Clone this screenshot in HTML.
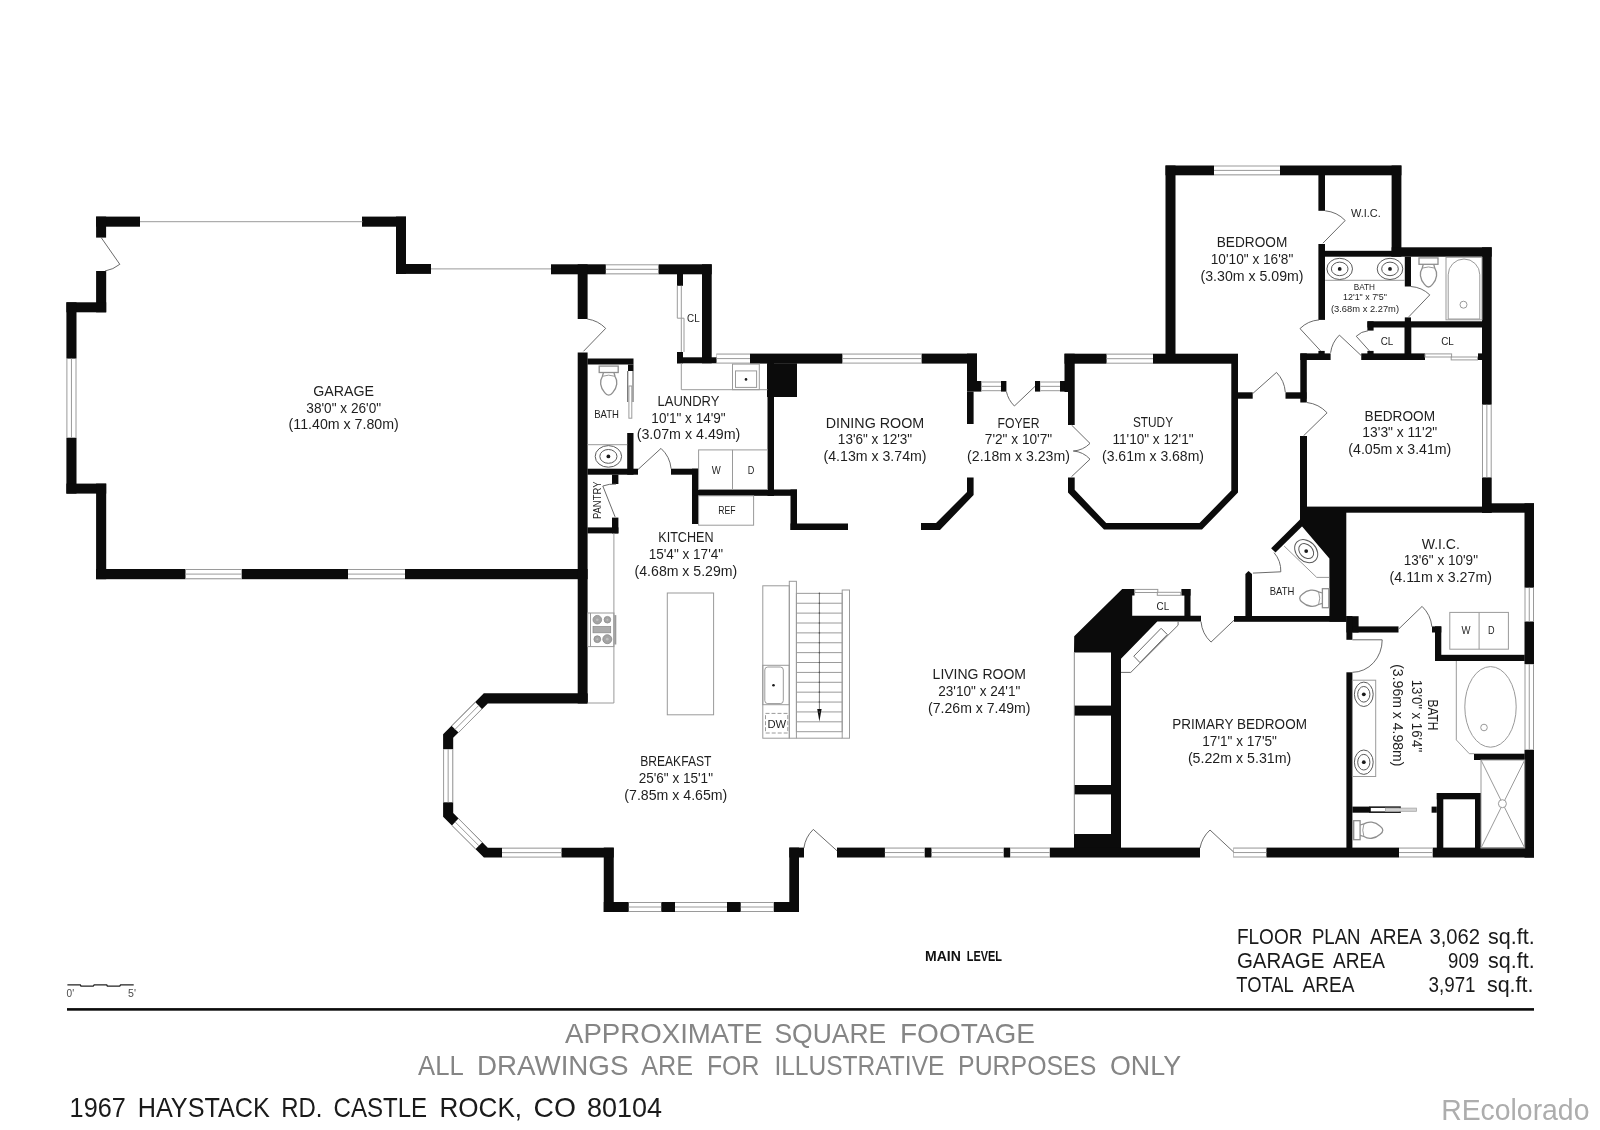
<!DOCTYPE html>
<html><head><meta charset="utf-8"><title>Floor Plan</title>
<style>html,body{margin:0;padding:0;background:#fff;}body{width:1600px;height:1130px;overflow:hidden;font-family:"Liberation Sans",sans-serif;}svg{display:block;}</style>
</head><body>
<svg width="1600" height="1130" viewBox="0 0 1600 1130">
<rect width="1600" height="1130" fill="#fff"/>
<g fill="#0b0b0b" stroke="none"><rect x="96.1" y="216.6" width="43.9" height="10.1"/><rect x="96.1" y="216.6" width="10" height="21"/><rect x="96.1" y="271" width="10.1" height="41.3"/><rect x="66.4" y="302.3" width="39.8" height="10"/><rect x="66.4" y="302.3" width="10.1" height="191.3"/><rect x="66.4" y="483.6" width="39.8" height="10"/><rect x="96.1" y="483.6" width="10.1" height="95.6"/><rect x="96.1" y="569" width="491.5" height="10.2"/><rect x="362" y="216.6" width="44" height="10.1"/><rect x="396" y="216.6" width="10" height="57.3"/><rect x="396" y="264" width="35" height="9.9"/><rect x="551" y="264.3" width="160.7" height="10"/><rect x="577.7" y="264.3" width="9.9" height="54.7"/><rect x="577.7" y="352.5" width="9.9" height="351"/><rect x="702" y="264.3" width="9.7" height="99"/><rect x="677" y="274" width="6" height="11.8"/><rect x="677" y="352" width="6" height="11.3"/><rect x="677" y="357.3" width="39.7" height="6"/><rect x="716.7" y="353.6" width="260.3" height="10"/><rect x="767" y="363.3" width="30" height="33.7"/><rect x="767.5" y="363" width="6.5" height="133"/><rect x="587.5" y="358.5" width="46" height="6"/><rect x="628" y="364.5" width="5.5" height="6.5"/><rect x="627.2" y="433" width="6.3" height="41.7"/><rect x="587.5" y="468.7" width="50.5" height="6"/><rect x="671" y="468.7" width="27.6" height="6"/><rect x="692" y="468.7" width="6.6" height="55.3"/><rect x="692" y="489.5" width="105" height="6.3"/><rect x="790.5" y="489.5" width="6.5" height="40.5"/><rect x="790.5" y="523.5" width="57.5" height="6.5"/><rect x="612" y="474.7" width="6.4" height="9.3"/><rect x="612" y="517.6" width="6.4" height="15.8"/><rect x="587.5" y="527.4" width="30.9" height="6"/><rect x="483.75" y="693.5" width="103.75" height="9.5"/><rect x="967" y="353.6" width="10" height="38"/><rect x="967" y="391.6" width="6.6" height="32.4"/><polygon points="967,477.6 973.6,477.6 973.6,495 940,530 921,530 921,523 936,523 967,492"/><rect x="977" y="381" width="4.6" height="10.6"/><rect x="1001" y="381" width="5.4" height="10.6"/><rect x="1035" y="381" width="5.4" height="10.6"/><rect x="1060" y="381" width="8" height="10.6"/><rect x="1064.5" y="353.7" width="173.5" height="10"/><rect x="1064.5" y="353.7" width="10.2" height="38.3"/><rect x="1068" y="392" width="6.7" height="33"/><polygon points="1068,477.5 1074.7,477.5 1074.7,489.8 1106.2,523.1 1199.5,523.1 1231.3,490.5 1231.3,363 1238,363 1238,492.6 1202,529.5 1104,529.5 1068,492.6"/><rect x="1238" y="392.3" width="14.7" height="6.4"/><rect x="1285.5" y="392.3" width="21" height="6.4"/><rect x="1165.5" y="165.5" width="235.9" height="9.8"/><rect x="1165.5" y="165.5" width="10" height="188.5"/><rect x="1318.4" y="175" width="6.6" height="35.8"/><rect x="1318.4" y="244" width="6.6" height="75.9"/><rect x="1391.6" y="165.5" width="9.8" height="91.2"/><rect x="1325" y="250.8" width="67" height="5.9"/><rect x="1391.6" y="247.3" width="100.1" height="9.4"/><rect x="1482" y="247.3" width="9.7" height="265.4"/><rect x="1404.8" y="256.7" width="6.2" height="29.8"/><rect x="1404.8" y="317.4" width="6.2" height="4.6"/><rect x="1367.4" y="321.3" width="114.6" height="6.2"/><rect x="1367.4" y="321.3" width="6.2" height="9.3"/><rect x="1404.5" y="327" width="6.8" height="27"/><rect x="1300.3" y="353.4" width="30.3" height="6.6"/><rect x="1361.25" y="353.4" width="63.75" height="6.6"/><rect x="1478" y="353.4" width="4" height="6.6"/><rect x="1318.4" y="350.9" width="6.3" height="3.1"/><rect x="1367.4" y="350.9" width="6.2" height="3.1"/><rect x="1300.3" y="353.4" width="6.5" height="49.1"/><rect x="1300" y="436" width="7" height="76.7"/><rect x="1300" y="506.6" width="191.7" height="6.1"/><rect x="1482" y="503.3" width="52" height="9.4"/><rect x="1524.5" y="503.3" width="9.5" height="354.3"/><polygon points="1300,512 1346.3,512 1346.3,621.8 1329.4,621.8 1329.4,558.4 1300,524"/><polygon points="1300,519.4 1304.5,524 1275.5,552.6 1271.1,548.3"/><rect x="1234" y="616" width="112.4" height="5.8"/><polygon points="1245.4,574 1248.5,571 1252,574 1252,616 1245.4,616"/><rect x="1184.4" y="589" width="6.1" height="27"/><rect x="1181.4" y="589" width="9.1" height="6.6"/><polygon points="1074.2,636.2 1122.2,589 1134.5,589 1134.5,595.6 1132.2,595.6 1132.2,615.8 1201,615.8 1201,621.6 1157.3,621.6 1121,658.7 1121,848 1111,848 1111,652.4 1074,652.4"/><rect x="1074" y="705.6" width="37" height="10"/><rect x="1074" y="785" width="37" height="9.4"/><rect x="1074" y="834" width="37" height="14"/><rect x="1346.4" y="616.2" width="12.2" height="16.3"/><rect x="1346.4" y="616" width="6" height="23.8"/><rect x="1352.4" y="626.4" width="46.1" height="6.1"/><rect x="1432" y="626.4" width="9.3" height="6.1"/><rect x="1435" y="626.4" width="6.3" height="34.6"/><rect x="1435" y="654.8" width="89.7" height="6.2"/><rect x="1346.4" y="672.3" width="6" height="175.7"/><rect x="1474" y="753.7" width="50.7" height="6.3"/><rect x="1436.8" y="793" width="44.2" height="6.3"/><rect x="1436.8" y="793" width="6.5" height="55"/><rect x="1475" y="793" width="6" height="55"/><rect x="1431.6" y="806.6" width="5.2" height="6.1"/><rect x="1352.4" y="806.6" width="17.6" height="6.1"/><rect x="1050" y="847.6" width="150" height="9.9"/><rect x="1233.6" y="847.6" width="300.4" height="9.9"/><rect x="837" y="847.6" width="213" height="9.9"/><rect x="789.3" y="847.6" width="14.7" height="9.9"/><rect x="789.3" y="847.6" width="9.7" height="64.4"/><rect x="603.75" y="902" width="195.25" height="10"/><rect x="603.75" y="847.6" width="10" height="64.4"/><polygon points="587.5,693.6 483.6,693.6 443.1,734.3 443.1,816.8 483.9,857.6 613.75,857.6 613.75,847.7 487.8,847.7 453.2,812.9 453.2,737.8 487.8,703.5 587.5,703.5"/></g>
<g fill="#fff" stroke="none"><rect x="65.9" y="358.6" width="11.1" height="79.1"/><rect x="185.5" y="568.5" width="56.2" height="11.2"/><rect x="348" y="568.5" width="57" height="11.2"/><rect x="605.8" y="263.8" width="52.7" height="11"/><rect x="716.7" y="353.1" width="33.3" height="11"/><rect x="842.4" y="353.1" width="79.2" height="11"/><rect x="981.6" y="381" width="19.4" height="10.7"/><rect x="1040.4" y="381" width="19.6" height="10.7"/><rect x="1106.6" y="353.2" width="46.4" height="11"/><rect x="1214" y="165" width="66" height="10.8"/><rect x="1481.5" y="404.7" width="10.7" height="72.7"/><rect x="1524" y="587.7" width="10.5" height="33.8"/><rect x="1524" y="664.2" width="10.5" height="85.5"/><rect x="1233.6" y="847.1" width="32.8" height="10.9"/><rect x="1399" y="847.1" width="33.7" height="10.9"/><rect x="884.9" y="847.1" width="39.8" height="10.9"/><rect x="931.5" y="847.1" width="72.2" height="10.9"/><rect x="1010.2" y="847.1" width="39.6" height="10.9"/><rect x="628.75" y="901.5" width="32.5" height="11"/><rect x="675" y="901.5" width="52" height="11"/><rect x="740.75" y="901.5" width="33" height="11"/><rect x="502" y="847.2" width="59.5" height="10.9"/><rect x="442.6" y="749.2" width="11.1" height="53.1"/><polygon points="475.4,702.3 451.7,726 458.5,732.6 481.9,708.9"/><polygon points="451.9,825.4 475.6,848.9 482.1,842.4 458.5,818.6"/></g>
<g fill="none" stroke="#9a9a9a" stroke-width="1"><line x1="66.9" y1="358.6" x2="66.9" y2="437.7"/><line x1="71.45" y1="358.6" x2="71.45" y2="437.7"/><line x1="76" y1="358.6" x2="76" y2="437.7"/><line x1="185.5" y1="569.5" x2="241.7" y2="569.5"/><line x1="185.5" y1="574.1" x2="241.7" y2="574.1"/><line x1="185.5" y1="578.7" x2="241.7" y2="578.7"/><line x1="348" y1="569.5" x2="405" y2="569.5"/><line x1="348" y1="574.1" x2="405" y2="574.1"/><line x1="348" y1="578.7" x2="405" y2="578.7"/><line x1="140" y1="221.7" x2="362.5" y2="221.7"/><line x1="431" y1="268.9" x2="551" y2="268.9"/><line x1="605.8" y1="264.8" x2="658.5" y2="264.8"/><line x1="605.8" y1="269.3" x2="658.5" y2="269.3"/><line x1="605.8" y1="273.8" x2="658.5" y2="273.8"/><line x1="716.7" y1="354.1" x2="750" y2="354.1"/><line x1="716.7" y1="358.6" x2="750" y2="358.6"/><line x1="716.7" y1="363.1" x2="750" y2="363.1"/><line x1="842.4" y1="354.1" x2="921.6" y2="354.1"/><line x1="842.4" y1="358.6" x2="921.6" y2="358.6"/><line x1="842.4" y1="363.1" x2="921.6" y2="363.1"/><line x1="981.6" y1="382" x2="1001" y2="382"/><line x1="981.6" y1="386.35" x2="1001" y2="386.35"/><line x1="981.6" y1="390.7" x2="1001" y2="390.7"/><line x1="1040.4" y1="382" x2="1060" y2="382"/><line x1="1040.4" y1="386.35" x2="1060" y2="386.35"/><line x1="1040.4" y1="390.7" x2="1060" y2="390.7"/><line x1="1106.6" y1="354.2" x2="1153" y2="354.2"/><line x1="1106.6" y1="358.7" x2="1153" y2="358.7"/><line x1="1106.6" y1="363.2" x2="1153" y2="363.2"/><line x1="1214" y1="166" x2="1280" y2="166"/><line x1="1214" y1="170.4" x2="1280" y2="170.4"/><line x1="1214" y1="174.8" x2="1280" y2="174.8"/><line x1="1482.5" y1="404.7" x2="1482.5" y2="477.4"/><line x1="1486.85" y1="404.7" x2="1486.85" y2="477.4"/><line x1="1491.2" y1="404.7" x2="1491.2" y2="477.4"/><line x1="1525" y1="587.7" x2="1525" y2="621.5"/><line x1="1529.25" y1="587.7" x2="1529.25" y2="621.5"/><line x1="1533.5" y1="587.7" x2="1533.5" y2="621.5"/><line x1="1525" y1="664.2" x2="1525" y2="749.7"/><line x1="1529.25" y1="664.2" x2="1529.25" y2="749.7"/><line x1="1533.5" y1="664.2" x2="1533.5" y2="749.7"/><line x1="1233.6" y1="848.1" x2="1266.4" y2="848.1"/><line x1="1233.6" y1="852.55" x2="1266.4" y2="852.55"/><line x1="1233.6" y1="857" x2="1266.4" y2="857"/><line x1="1399" y1="848.1" x2="1432.7" y2="848.1"/><line x1="1399" y1="852.55" x2="1432.7" y2="852.55"/><line x1="1399" y1="857" x2="1432.7" y2="857"/><line x1="884.9" y1="848.1" x2="924.7" y2="848.1"/><line x1="884.9" y1="852.55" x2="924.7" y2="852.55"/><line x1="884.9" y1="857" x2="924.7" y2="857"/><line x1="931.5" y1="848.1" x2="1003.7" y2="848.1"/><line x1="931.5" y1="852.55" x2="1003.7" y2="852.55"/><line x1="931.5" y1="857" x2="1003.7" y2="857"/><line x1="1010.2" y1="848.1" x2="1049.8" y2="848.1"/><line x1="1010.2" y1="852.55" x2="1049.8" y2="852.55"/><line x1="1010.2" y1="857" x2="1049.8" y2="857"/><line x1="628.75" y1="902.5" x2="661.25" y2="902.5"/><line x1="628.75" y1="907" x2="661.25" y2="907"/><line x1="628.75" y1="911.5" x2="661.25" y2="911.5"/><line x1="675" y1="902.5" x2="727" y2="902.5"/><line x1="675" y1="907" x2="727" y2="907"/><line x1="675" y1="911.5" x2="727" y2="911.5"/><line x1="740.75" y1="902.5" x2="773.75" y2="902.5"/><line x1="740.75" y1="907" x2="773.75" y2="907"/><line x1="740.75" y1="911.5" x2="773.75" y2="911.5"/><line x1="502" y1="848.2" x2="561.5" y2="848.2"/><line x1="502" y1="852.65" x2="561.5" y2="852.65"/><line x1="502" y1="857.1" x2="561.5" y2="857.1"/><line x1="443.6" y1="749.2" x2="443.6" y2="802.3"/><line x1="448.15" y1="749.2" x2="448.15" y2="802.3"/><line x1="452.7" y1="749.2" x2="452.7" y2="802.3"/><line x1="475.4" y1="702.3" x2="451.7" y2="726"/><line x1="481.9" y1="708.9" x2="458.5" y2="732.6"/><line x1="478.65" y1="705.6" x2="455.1" y2="729.3"/><line x1="451.9" y1="825.4" x2="475.6" y2="848.9"/><line x1="458.5" y1="818.6" x2="482.1" y2="842.4"/><line x1="455.2" y1="822" x2="478.85" y2="845.65"/><g transform="translate(608.7 365.8) rotate(0)" stroke="#8f8f8f" stroke-width="1.3"><rect x="-9.5" y="0.3" width="19" height="6.4"/><path d="M-5.2 6.7 L-6.3 10.5 C-9.2 15 -8.8 21.5 -4 26.8 Q0 32 4 26.8 C8.8 21.5 9.2 15 6.3 10.5 L5.2 6.7"/><path d="M-6.3 10.5 Q0 8.2 6.3 10.5" stroke-width="0.9"/></g><path d="M627.7 371 V402 M633 371 V402" stroke="#777" stroke-width="1.3"/><rect x="628.9" y="386" width="2.9" height="32.2"/><line x1="587.5" y1="444.7" x2="627.2" y2="444.7"/><polyline points="681.3,363.3 681.3,389.7 767.5,389.7"/><rect x="732.5" y="364.1" width="26.8" height="25.6"/><rect x="735.5" y="370.9" width="21.1" height="16.5"/><polyline points="677.3,285.8 677.3,318.2 681.3,318.2"/><polyline points="681.3,285.8 681.3,352"/><polyline points="681.3,318.2 684,318.2 684,352"/><rect x="698.6" y="449.9" width="68.9" height="39.6"/><line x1="732.5" y1="449.9" x2="732.5" y2="489.5"/><rect x="698.6" y="495.8" width="55" height="29.4"/><polyline points="613.9,533.4 613.9,703 587.5,703"/><rect x="587.7" y="613" width="26.2" height="33.6"/><line x1="590.5" y1="613" x2="590.5" y2="646.6"/><rect x="667.3" y="593" width="46.3" height="121.8"/><rect x="762.8" y="585.8" width="26.5" height="152.4"/><rect x="789.3" y="581.3" width="7.1" height="156.9"/><rect x="842.2" y="590" width="7.3" height="148.2"/><line x1="796.4" y1="738.2" x2="842.2" y2="738.2"/><rect x="796.4" y="593.35" width="45.8" height="138.35"/><line x1="796.4" y1="603.23" x2="842.2" y2="603.23"/><line x1="796.4" y1="613.11" x2="842.2" y2="613.11"/><line x1="796.4" y1="623" x2="842.2" y2="623"/><line x1="796.4" y1="632.88" x2="842.2" y2="632.88"/><line x1="796.4" y1="642.76" x2="842.2" y2="642.76"/><line x1="796.4" y1="652.64" x2="842.2" y2="652.64"/><line x1="796.4" y1="662.52" x2="842.2" y2="662.52"/><line x1="796.4" y1="672.41" x2="842.2" y2="672.41"/><line x1="796.4" y1="682.29" x2="842.2" y2="682.29"/><line x1="796.4" y1="692.17" x2="842.2" y2="692.17"/><line x1="796.4" y1="702.05" x2="842.2" y2="702.05"/><line x1="796.4" y1="711.93" x2="842.2" y2="711.93"/><line x1="796.4" y1="721.82" x2="842.2" y2="721.82"/><rect x="762.8" y="665.3" width="26.5" height="39.4"/><rect x="764.8" y="667" width="18.5" height="36.6" rx="3"/><rect x="765.5" y="713.4" width="22.3" height="19.6" stroke-dasharray="4 2"/><line x1="1325.2" y1="280.3" x2="1404.8" y2="280.3"/><g transform="translate(1428.5 257.6) rotate(0)" stroke="#8f8f8f" stroke-width="1.3"><rect x="-9.5" y="0.3" width="19" height="6.4"/><path d="M-5.2 6.7 L-6.3 10.5 C-9.2 15 -8.8 21.5 -4 26.8 Q0 32 4 26.8 C8.8 21.5 9.2 15 6.3 10.5 L5.2 6.7"/><path d="M-6.3 10.5 Q0 8.2 6.3 10.5" stroke-width="0.9"/></g><rect x="1446" y="257.3" width="36" height="62.5"/><path d="M1448.2 319 L1448.2 274.8 A15.8 15.8 0 0 1 1479.8 274.8 L1479.8 319 Z"/><ellipse cx="1463.5" cy="304.7" rx="3.5" ry="3.5"/><rect x="1425" y="353.9" width="26.6" height="3.1"/><rect x="1451.2" y="357" width="26.3" height="2.9"/><rect x="1134.8" y="589.4" width="23" height="3.1"/><rect x="1157.3" y="592.3" width="23.5" height="3"/><polyline points="1284.1,546 1316.7,577.4 1329.1,577.4"/><g transform="translate(1329.1 598.2) rotate(90)" stroke="#8f8f8f" stroke-width="1.3"><rect x="-9.5" y="0.3" width="19" height="6.4"/><path d="M-5.2 6.7 L-6.3 10.5 C-9.2 15 -8.8 21.5 -4 26.8 Q0 32 4 26.8 C8.8 21.5 9.2 15 6.3 10.5 L5.2 6.7"/><path d="M-6.3 10.5 Q0 8.2 6.3 10.5" stroke-width="0.9"/></g><rect x="1352.4" y="680.2" width="23.3" height="96.3"/><polyline points="1456.3,661 1456.3,739.9 1469.3,753.7 1474,753.7"/><ellipse cx="1490.5" cy="706.9" rx="25.7" ry="40.3"/><ellipse cx="1484" cy="727.5" rx="3.3" ry="3.3"/><rect x="1481" y="760" width="43.7" height="88"/><line x1="1481" y1="760" x2="1524.7" y2="848"/><line x1="1524.7" y1="760" x2="1481" y2="848"/><circle cx="1502.4" cy="803.7" r="4" fill="#fff"/><g transform="translate(1353.4 830.2) rotate(-90)" stroke="#8f8f8f" stroke-width="1.3"><rect x="-9.5" y="0.3" width="19" height="6.4"/><path d="M-5.2 6.7 L-6.3 10.5 C-9.2 15 -8.8 21.5 -4 26.8 Q0 32 4 26.8 C8.8 21.5 9.2 15 6.3 10.5 L5.2 6.7"/><path d="M-6.3 10.5 Q0 8.2 6.3 10.5" stroke-width="0.9"/></g><rect x="1449.8" y="612.4" width="58.6" height="36.8"/><line x1="1479.1" y1="612.4" x2="1479.1" y2="649.2"/></g>
<g fill="none" stroke="#5a5a5a" stroke-width="0.9"><path d="M101.2 237.6 L119.8 264.3 A32.54 32.54 0 0 1 105 271"/><path d="M583.5 351.3 L605.7 328.4 A31.89 31.89 0 0 0 587.3 319"/><path d="M638 469.5 L661 448.4 A31.21 31.21 0 0 1 671.1 468.7"/><path d="M615.1 516.9 L602.8 486 A33.26 33.26 0 0 1 616 484.1"/><path d="M1035 386.4 L1014.4 406 A28.43 28.43 0 0 1 1006.4 391.6"/><path d="M1071.5 425 L1090 443.4 A26.09 26.09 0 0 1 1073.3 451"/><path d="M1071.5 476.7 L1090 459.2 A25.47 25.47 0 0 0 1073.3 451"/><path d="M1252.9 393.4 L1276.5 372.4 A31.59 31.59 0 0 1 1285.3 392.2"/><path d="M1303.5 435.8 L1327.1 412.8 A32.95 32.95 0 0 0 1306.9 402.5"/><path d="M1322.9 243.2 L1345.2 220.5 A31.82 31.82 0 0 0 1325.2 210.8"/><path d="M1408.8 316.8 L1429.8 294.9 A30.34 30.34 0 0 0 1410.9 286.5"/><path d="M1320.6 350.9 L1300 328.6 A30.36 30.36 0 0 1 1319 319.9"/><path d="M1361.25 355.6 L1339.4 335.1 A29.96 29.96 0 0 0 1330.6 352.8"/><path d="M1369.4 350.9 L1356.25 336.25 A19.69 19.69 0 0 1 1368 330.75"/><path d="M1234 620.2 L1211 642.1 A31.76 31.76 0 0 1 1201 621.6"/><path d="M1252.9 573.1 L1280.8 571.8 A27.93 27.93 0 0 0 1274 552.6"/><path d="M1398.5 629.2 L1422.1 606.4 A32.81 32.81 0 0 1 1431.9 626.75"/><path d="M1352.4 639.8 L1382.2 639.8 A29.8 32.5 0 0 1 1352.4 672.3"/><path d="M1233.6 852 L1210 830 A32.26 32.26 0 0 0 1200 848"/><path d="M837 850.75 L813.3 829.4 A31.9 31.9 0 0 0 803.9 848"/><polyline points="1178.1,621.6 1178.1,625.2 1130.8,672.4 1121,672.4"/><polygon points="1161.1,628.3 1167.3,634.5 1140,662.6 1133.8,656.2"/></g>
<g font-family="'Liberation Sans', sans-serif" fill="#1e1e1e" opacity="0.999"><text x="343.7" y="395.8" font-size="14.1" text-anchor="middle" textLength="60.8" lengthAdjust="spacingAndGlyphs">GARAGE</text><text x="343.7" y="412.55" font-size="14.1" text-anchor="middle" textLength="74.7" lengthAdjust="spacingAndGlyphs">38'0" x 26'0"</text><text x="343.7" y="429.3" font-size="14.1" text-anchor="middle" textLength="110.2" lengthAdjust="spacingAndGlyphs">(11.40m x 7.80m)</text><text x="688.5" y="405.9" font-size="14.1" text-anchor="middle" textLength="61.9" lengthAdjust="spacingAndGlyphs">LAUNDRY</text><text x="688.5" y="422.65" font-size="14.1" text-anchor="middle" textLength="74.3" lengthAdjust="spacingAndGlyphs">10'1" x 14'9"</text><text x="688.5" y="439.4" font-size="14.1" text-anchor="middle" textLength="103.7" lengthAdjust="spacingAndGlyphs">(3.07m x 4.49m)</text><text x="685.9" y="542.3" font-size="14.1" text-anchor="middle" textLength="55.2" lengthAdjust="spacingAndGlyphs">KITCHEN</text><text x="685.9" y="559.05" font-size="14.1" text-anchor="middle" textLength="74.4" lengthAdjust="spacingAndGlyphs">15'4" x 17'4"</text><text x="685.9" y="575.8" font-size="14.1" text-anchor="middle" textLength="102.6" lengthAdjust="spacingAndGlyphs">(4.68m x 5.29m)</text><text x="875" y="427.6" font-size="14.1" text-anchor="middle" textLength="98.5" lengthAdjust="spacingAndGlyphs">DINING ROOM</text><text x="875" y="444.35" font-size="14.1" text-anchor="middle" textLength="74.3" lengthAdjust="spacingAndGlyphs">13'6" x 12'3"</text><text x="875" y="461.1" font-size="14.1" text-anchor="middle" textLength="103" lengthAdjust="spacingAndGlyphs">(4.13m x 3.74m)</text><text x="1018.5" y="427.6" font-size="14.1" text-anchor="middle" textLength="42" lengthAdjust="spacingAndGlyphs">FOYER</text><text x="1018.5" y="444.35" font-size="14.1" text-anchor="middle" textLength="67.4" lengthAdjust="spacingAndGlyphs">7'2" x 10'7"</text><text x="1018.5" y="461.1" font-size="14.1" text-anchor="middle" textLength="102.8" lengthAdjust="spacingAndGlyphs">(2.18m x 3.23m)</text><text x="1153" y="427.2" font-size="14.1" text-anchor="middle" textLength="40.1" lengthAdjust="spacingAndGlyphs">STUDY</text><text x="1153" y="443.95" font-size="14.1" text-anchor="middle" textLength="81.1" lengthAdjust="spacingAndGlyphs">11'10" x 12'1"</text><text x="1153" y="460.7" font-size="14.1" text-anchor="middle" textLength="102" lengthAdjust="spacingAndGlyphs">(3.61m x 3.68m)</text><text x="1252" y="247" font-size="14.1" text-anchor="middle" textLength="70.5" lengthAdjust="spacingAndGlyphs">BEDROOM</text><text x="1252" y="263.75" font-size="14.1" text-anchor="middle" textLength="82.5" lengthAdjust="spacingAndGlyphs">10'10" x 16'8"</text><text x="1252" y="280.5" font-size="14.1" text-anchor="middle" textLength="103" lengthAdjust="spacingAndGlyphs">(3.30m x 5.09m)</text><text x="1399.8" y="420.6" font-size="14.1" text-anchor="middle" textLength="70.4" lengthAdjust="spacingAndGlyphs">BEDROOM</text><text x="1399.8" y="437.35" font-size="14.1" text-anchor="middle" textLength="74.9" lengthAdjust="spacingAndGlyphs">13'3" x 11'2"</text><text x="1399.8" y="454.1" font-size="14.1" text-anchor="middle" textLength="103" lengthAdjust="spacingAndGlyphs">(4.05m x 3.41m)</text><text x="1440.8" y="548.6" font-size="14.1" text-anchor="middle" textLength="38.3" lengthAdjust="spacingAndGlyphs">W.I.C.</text><text x="1440.8" y="565.35" font-size="14.1" text-anchor="middle" textLength="74.3" lengthAdjust="spacingAndGlyphs">13'6" x 10'9"</text><text x="1440.8" y="582.1" font-size="14.1" text-anchor="middle" textLength="102.4" lengthAdjust="spacingAndGlyphs">(4.11m x 3.27m)</text><text x="1239.6" y="729.4" font-size="14.1" text-anchor="middle" textLength="134.6" lengthAdjust="spacingAndGlyphs">PRIMARY BEDROOM</text><text x="1239.6" y="746.15" font-size="14.1" text-anchor="middle" textLength="74.6" lengthAdjust="spacingAndGlyphs">17'1" x 17'5"</text><text x="1239.6" y="762.9" font-size="14.1" text-anchor="middle" textLength="103.4" lengthAdjust="spacingAndGlyphs">(5.22m x 5.31m)</text><text x="675.8" y="766.2" font-size="14.1" text-anchor="middle" textLength="71.3" lengthAdjust="spacingAndGlyphs">BREAKFAST</text><text x="675.8" y="782.95" font-size="14.1" text-anchor="middle" textLength="74.3" lengthAdjust="spacingAndGlyphs">25'6" x 15'1"</text><text x="675.8" y="799.7" font-size="14.1" text-anchor="middle" textLength="103" lengthAdjust="spacingAndGlyphs">(7.85m x 4.65m)</text><text x="979.3" y="679.1" font-size="14.1" text-anchor="middle" textLength="93.4" lengthAdjust="spacingAndGlyphs">LIVING ROOM</text><text x="979.3" y="695.85" font-size="14.1" text-anchor="middle" textLength="82.1" lengthAdjust="spacingAndGlyphs">23'10" x 24'1"</text><text x="979.3" y="712.6" font-size="14.1" text-anchor="middle" textLength="102.4" lengthAdjust="spacingAndGlyphs">(7.26m x 7.49m)</text><text x="594.2" y="418.2" font-size="11.2" textLength="24.83" lengthAdjust="spacingAndGlyphs">BATH</text><text x="687.1" y="321.6" font-size="11.2" textLength="12.62" lengthAdjust="spacingAndGlyphs">CL</text><text x="711.8" y="473.9" font-size="11.2" textLength="8.98" lengthAdjust="spacingAndGlyphs">W</text><text x="747.7" y="473.9" font-size="11.2" textLength="6.59" lengthAdjust="spacingAndGlyphs">D</text><text x="718.15" y="514.3" font-size="11.2" textLength="17.3" lengthAdjust="spacingAndGlyphs">REF</text><text x="600.9" y="519.1" font-size="11.2" textLength="37.6" lengthAdjust="spacingAndGlyphs" transform="rotate(-90 600.9 519.1)">PANTRY</text><text x="767.4" y="727.8" font-size="11.2" textLength="18.76" lengthAdjust="spacingAndGlyphs">DW</text><text x="1351" y="217.1" font-size="11.2" textLength="29.79" lengthAdjust="spacingAndGlyphs">W.I.C.</text><text x="1364.4" y="289.7" font-size="9.1" text-anchor="middle" textLength="21.3" lengthAdjust="spacingAndGlyphs">BATH</text><text x="1365" y="299.9" font-size="9.1" text-anchor="middle" textLength="43.8" lengthAdjust="spacingAndGlyphs">12'1" x 7'5"</text><text x="1365" y="311.6" font-size="9.1" text-anchor="middle" textLength="68.1" lengthAdjust="spacingAndGlyphs">(3.68m x 2.27m)</text><text x="1380.7" y="344.7" font-size="11.2" textLength="12.62" lengthAdjust="spacingAndGlyphs">CL</text><text x="1441.2" y="344.7" font-size="11.2" textLength="12.62" lengthAdjust="spacingAndGlyphs">CL</text><text x="1461.5" y="633.7" font-size="11.2" textLength="8.98" lengthAdjust="spacingAndGlyphs">W</text><text x="1488" y="633.7" font-size="11.2" textLength="6.59" lengthAdjust="spacingAndGlyphs">D</text><text x="1269.7" y="594.6" font-size="11.2" textLength="24.63" lengthAdjust="spacingAndGlyphs">BATH</text><text x="1156.6" y="610.1" font-size="11.2" textLength="12.62" lengthAdjust="spacingAndGlyphs">CL</text><text x="1427.9" y="715" font-size="14.1" text-anchor="middle" textLength="30.9" lengthAdjust="spacingAndGlyphs" transform="rotate(90 1427.9 715)">BATH</text><text x="1411.5" y="715.9" font-size="14.1" text-anchor="middle" textLength="72.4" lengthAdjust="spacingAndGlyphs" transform="rotate(90 1411.5 715.9)">13'0" x 16'4"</text><text x="1392.9" y="715.3" font-size="14.1" text-anchor="middle" textLength="102.2" lengthAdjust="spacingAndGlyphs" transform="rotate(90 1392.9 715.3)">(3.96m x 4.98m)</text><text x="925" y="961.3" font-size="14" textLength="35.87" lengthAdjust="spacingAndGlyphs" font-weight="bold" fill="#111">MAIN</text><text x="966.7" y="961.3" font-size="14" textLength="35.31" lengthAdjust="spacingAndGlyphs" font-weight="bold" fill="#111">LEVEL</text><text x="66.6" y="996.6" font-size="11.4" textLength="7.52" lengthAdjust="spacingAndGlyphs" fill="#4a4a4a">0'</text><text x="128.1" y="996.6" font-size="11.4" textLength="7.92" lengthAdjust="spacingAndGlyphs" fill="#4a4a4a">5'</text><text x="565" y="1042.5" font-size="27.6" textLength="197.53" lengthAdjust="spacingAndGlyphs" fill="#858585">APPROXIMATE</text><text x="774.4" y="1042.5" font-size="27.6" textLength="111.81" lengthAdjust="spacingAndGlyphs" fill="#858585">SQUARE</text><text x="900" y="1042.5" font-size="27.6" textLength="135" lengthAdjust="spacingAndGlyphs" fill="#858585">FOOTAGE</text><text x="418.1" y="1075.25" font-size="27.6" textLength="45.66" lengthAdjust="spacingAndGlyphs" fill="#858585">ALL</text><text x="476.9" y="1075.25" font-size="27.6" textLength="151.58" lengthAdjust="spacingAndGlyphs" fill="#858585">DRAWINGS</text><text x="641.25" y="1075.25" font-size="27.6" textLength="51.8" lengthAdjust="spacingAndGlyphs" fill="#858585">ARE</text><text x="706.9" y="1075.25" font-size="27.6" textLength="52.46" lengthAdjust="spacingAndGlyphs" fill="#858585">FOR</text><text x="774.4" y="1075.25" font-size="27.6" textLength="170.01" lengthAdjust="spacingAndGlyphs" fill="#858585">ILLUSTRATIVE</text><text x="958.1" y="1075.25" font-size="27.6" textLength="138.13" lengthAdjust="spacingAndGlyphs" fill="#858585">PURPOSES</text><text x="1110" y="1075.25" font-size="27.6" textLength="71.01" lengthAdjust="spacingAndGlyphs" fill="#858585">ONLY</text><text x="69.6" y="1116.5" font-size="27.8" textLength="56.19" lengthAdjust="spacingAndGlyphs" fill="#1a1a1a">1967</text><text x="137.7" y="1116.5" font-size="27.8" textLength="132.12" lengthAdjust="spacingAndGlyphs" fill="#1a1a1a">HAYSTACK</text><text x="281.3" y="1116.5" font-size="27.8" textLength="41.18" lengthAdjust="spacingAndGlyphs" fill="#1a1a1a">RD.</text><text x="333.5" y="1116.5" font-size="27.8" textLength="93.64" lengthAdjust="spacingAndGlyphs" fill="#1a1a1a">CASTLE</text><text x="439.5" y="1116.5" font-size="27.8" textLength="82.54" lengthAdjust="spacingAndGlyphs" fill="#1a1a1a">ROCK,</text><text x="533.5" y="1116.5" font-size="27.8" textLength="42.4" lengthAdjust="spacingAndGlyphs" fill="#1a1a1a">CO</text><text x="586.9" y="1116.5" font-size="27.8" textLength="75" lengthAdjust="spacingAndGlyphs" fill="#1a1a1a">80104</text><text x="1236.9" y="943.5" font-size="21.4" textLength="65.62" lengthAdjust="spacingAndGlyphs" fill="#1a1a1a">FLOOR</text><text x="1311.9" y="943.5" font-size="21.4" textLength="48.7" lengthAdjust="spacingAndGlyphs" fill="#1a1a1a">PLAN</text><text x="1370" y="943.5" font-size="21.4" textLength="51.98" lengthAdjust="spacingAndGlyphs" fill="#1a1a1a">AREA</text><text x="1429.4" y="943.5" font-size="21.4" textLength="50.55" lengthAdjust="spacingAndGlyphs" fill="#1a1a1a">3,062</text><text x="1488.1" y="943.5" font-size="21.4" textLength="46.63" lengthAdjust="spacingAndGlyphs" fill="#1a1a1a">sq.ft.</text><text x="1236.9" y="967.5" font-size="21.4" textLength="87.47" lengthAdjust="spacingAndGlyphs" fill="#1a1a1a">GARAGE</text><text x="1333.1" y="967.5" font-size="21.4" textLength="51.88" lengthAdjust="spacingAndGlyphs" fill="#1a1a1a">AREA</text><text x="1448.1" y="967.5" font-size="21.4" textLength="30.9" lengthAdjust="spacingAndGlyphs" fill="#1a1a1a">909</text><text x="1488.1" y="967.5" font-size="21.4" textLength="46.63" lengthAdjust="spacingAndGlyphs" fill="#1a1a1a">sq.ft.</text><text x="1236.25" y="992.25" font-size="21.4" textLength="57.49" lengthAdjust="spacingAndGlyphs" fill="#1a1a1a">TOTAL</text><text x="1302.5" y="992.25" font-size="21.4" textLength="51.88" lengthAdjust="spacingAndGlyphs" fill="#1a1a1a">AREA</text><text x="1428.5" y="992.25" font-size="21.4" textLength="47.06" lengthAdjust="spacingAndGlyphs" fill="#1a1a1a">3,971</text><text x="1486.9" y="992.25" font-size="21.4" textLength="46.58" lengthAdjust="spacingAndGlyphs" fill="#1a1a1a">sq.ft.</text><text x="1441.2" y="1120.3" font-size="28.6" textLength="148.24" lengthAdjust="spacingAndGlyphs" fill="#adadad">REcolorado</text></g>
<g><circle cx="597.3" cy="619.7" r="4.3" fill="#a4a4a4" stroke="#8a8a8a" stroke-width="0.8"/><circle cx="597.3" cy="619.7" r="1.29" fill="#bdbdbd"/><circle cx="607.4" cy="619.7" r="3.3" fill="#a4a4a4" stroke="#8a8a8a" stroke-width="0.8"/><circle cx="607.4" cy="619.7" r="0.99" fill="#bdbdbd"/><circle cx="597.3" cy="639.2" r="3.4" fill="#a4a4a4" stroke="#8a8a8a" stroke-width="0.8"/><circle cx="597.3" cy="639.2" r="1.02" fill="#bdbdbd"/><circle cx="607.3" cy="639.2" r="4.5" fill="#a4a4a4" stroke="#8a8a8a" stroke-width="0.8"/><circle cx="607.3" cy="639.2" r="1.35" fill="#bdbdbd"/><rect x="593" y="626.5" width="17.7" height="6.3" fill="#ababab" stroke="#888" stroke-width="0.7"/><rect x="614.3" y="615.1" width="2" height="29.4" fill="#9a9a9a"/></g><g fill="none" stroke="#5a5a5a" stroke-width="1"><ellipse cx="608.4" cy="456.4" rx="13.2" ry="10.8"/><ellipse cx="608.4" cy="456.4" rx="8.58" ry="6.91"/><ellipse cx="1339.7" cy="268.9" rx="12.8" ry="10.6"/><ellipse cx="1339.7" cy="268.9" rx="8.32" ry="6.78"/><ellipse cx="1390" cy="268.9" rx="12.8" ry="10.6"/><ellipse cx="1390" cy="268.9" rx="8.32" ry="6.78"/><ellipse cx="1306.2" cy="551.1" rx="13" ry="9.9" transform="rotate(45 1306.2 551.1)"/><ellipse cx="1306.2" cy="551.1" rx="8.45" ry="6.34" transform="rotate(45 1306.2 551.1)"/><ellipse cx="1363.8" cy="694.3" rx="9.4" ry="12.2"/><ellipse cx="1363.8" cy="694.3" rx="6.11" ry="7.81"/><ellipse cx="1363.8" cy="762.2" rx="9.4" ry="12.2"/><ellipse cx="1363.8" cy="762.2" rx="6.11" ry="7.81"/></g><g fill="#1a1a1a"><circle cx="608.4" cy="456.4" r="1.9"/><circle cx="746" cy="379.4" r="1.3"/><circle cx="773.5" cy="685.3" r="1.3"/><circle cx="1339.7" cy="268.9" r="1.9"/><circle cx="1390" cy="268.9" r="1.9"/><circle cx="1306.2" cy="551.1" r="1.9"/><circle cx="1363.8" cy="694.3" r="1.9"/><circle cx="1363.8" cy="762.2" r="1.9"/></g><rect x="1370" y="807.15" width="30.1" height="5" fill="#fff" stroke="#0b0b0b" stroke-width="1.5"/><rect x="1385.4" y="808.1" width="31" height="3.2" fill="#d4d4d4" stroke="#a5a5a5" stroke-width="0.8"/><line x1="819.4" y1="593.35" x2="819.4" y2="712" stroke="#707070" stroke-width="0.9"/><polygon points="817.2,708.9 821.6,708.9 819.4,721.5" fill="#111"/><circle cx="819.4" cy="593.35" r="0.8" fill="#555"/><circle cx="819.4" cy="603.23" r="0.8" fill="#555"/><circle cx="819.4" cy="613.11" r="0.8" fill="#555"/><circle cx="819.4" cy="623" r="0.8" fill="#555"/><circle cx="819.4" cy="632.88" r="0.8" fill="#555"/><circle cx="819.4" cy="642.76" r="0.8" fill="#555"/><circle cx="819.4" cy="652.64" r="0.8" fill="#555"/><circle cx="819.4" cy="662.52" r="0.8" fill="#555"/><circle cx="819.4" cy="672.41" r="0.8" fill="#555"/><circle cx="819.4" cy="682.29" r="0.8" fill="#555"/><circle cx="819.4" cy="692.17" r="0.8" fill="#555"/><circle cx="819.4" cy="702.05" r="0.8" fill="#555"/><circle cx="819.4" cy="711.93" r="0.8" fill="#555"/><line x1="1074.3" y1="652" x2="1074.3" y2="834.2" stroke="#8a8a8a" stroke-width="1"/><rect x="67" y="1008.1" width="1467" height="2.6" fill="#0b0b0b"/><path d="M67.4 984.9 H80.3 L81 986.1 H93.2 L94.2 984.9 H106.7 L107.4 986.1 H119.7 L120.6 984.9 H133.7" fill="none" stroke="#222" stroke-width="1.4"/>
</svg>
</body></html>
